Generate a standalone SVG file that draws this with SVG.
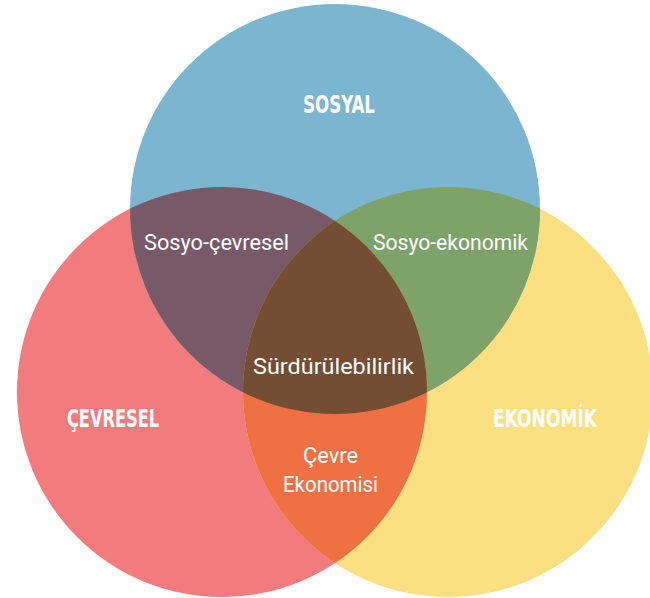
<svg xmlns="http://www.w3.org/2000/svg" width="650" height="598" viewBox="0 0 650 598">
  <style>
    .head { font-family: "DejaVu Sans Condensed", "DejaVu Sans", "Liberation Sans", sans-serif; font-weight: bold; font-size: 25px; fill: #ffffff; }
    .lbl { font-family: Roboto, "Liberation Sans", sans-serif; font-size: 22px; fill: #ffffff; }
  </style>
  <defs>
    <clipPath id="clipSosyal"><circle cx="335" cy="209" r="205"/></clipPath>
    <clipPath id="clipCevre"><circle cx="222" cy="392" r="205"/></clipPath>
    <clipPath id="clipEkonomi"><circle cx="448" cy="392" r="205"/></clipPath>
  </defs>

  <!-- base circles -->
  <g id="cevresel">
    <circle cx="222" cy="392" r="205" fill="#F27B7E"/>
  </g>
  <g id="ekonomik">
    <circle cx="448" cy="392" r="205" fill="#FAE081"/>
  </g>
  <g id="sosyal">
    <circle cx="335" cy="209" r="205" fill="#7CB5CF"/>
  </g>

  <!-- pairwise overlaps -->
  <g id="sosyo-cevresel">
    <circle cx="335" cy="209" r="205" fill="#785967" clip-path="url(#clipCevre)"/>
  </g>
  <g id="sosyo-ekonomik">
    <circle cx="335" cy="209" r="205" fill="#7EA36A" clip-path="url(#clipEkonomi)"/>
  </g>
  <g id="cevre-ekonomisi">
    <circle cx="222" cy="392" r="205" fill="#EF7042" clip-path="url(#clipEkonomi)"/>
  </g>

  <!-- triple overlap -->
  <g id="surdurulebilirlik">
    <g clip-path="url(#clipEkonomi)">
      <circle cx="335" cy="209" r="205" fill="#734E33" clip-path="url(#clipCevre)"/>
    </g>
  </g>

  <!-- labels -->
  <g id="labels">
    <text class="head" x="339" y="113" text-anchor="middle" textLength="72" lengthAdjust="spacingAndGlyphs">SOSYAL</text>
    <text class="head" x="113" y="427" text-anchor="middle" textLength="92" lengthAdjust="spacingAndGlyphs">ÇEVRESEL</text>
    <text class="head" x="545" y="427" text-anchor="middle" textLength="104" lengthAdjust="spacingAndGlyphs">EKONOMİK</text>
    <text class="lbl" x="216.5" y="250" text-anchor="middle" textLength="145" lengthAdjust="spacingAndGlyphs">Sosyo-çevresel</text>
    <text class="lbl" x="450.5" y="250" text-anchor="middle" textLength="155" lengthAdjust="spacingAndGlyphs">Sosyo-ekonomik</text>
    <text class="lbl" x="333.5" y="374" text-anchor="middle" textLength="161" lengthAdjust="spacingAndGlyphs">Sürdürülebilirlik</text>
    <text class="lbl" x="330.5" y="463" text-anchor="middle" textLength="55" lengthAdjust="spacingAndGlyphs">Çevre</text>
    <text class="lbl" x="330.5" y="492" text-anchor="middle" textLength="95" lengthAdjust="spacingAndGlyphs">Ekonomisi</text>
  </g>
</svg>
